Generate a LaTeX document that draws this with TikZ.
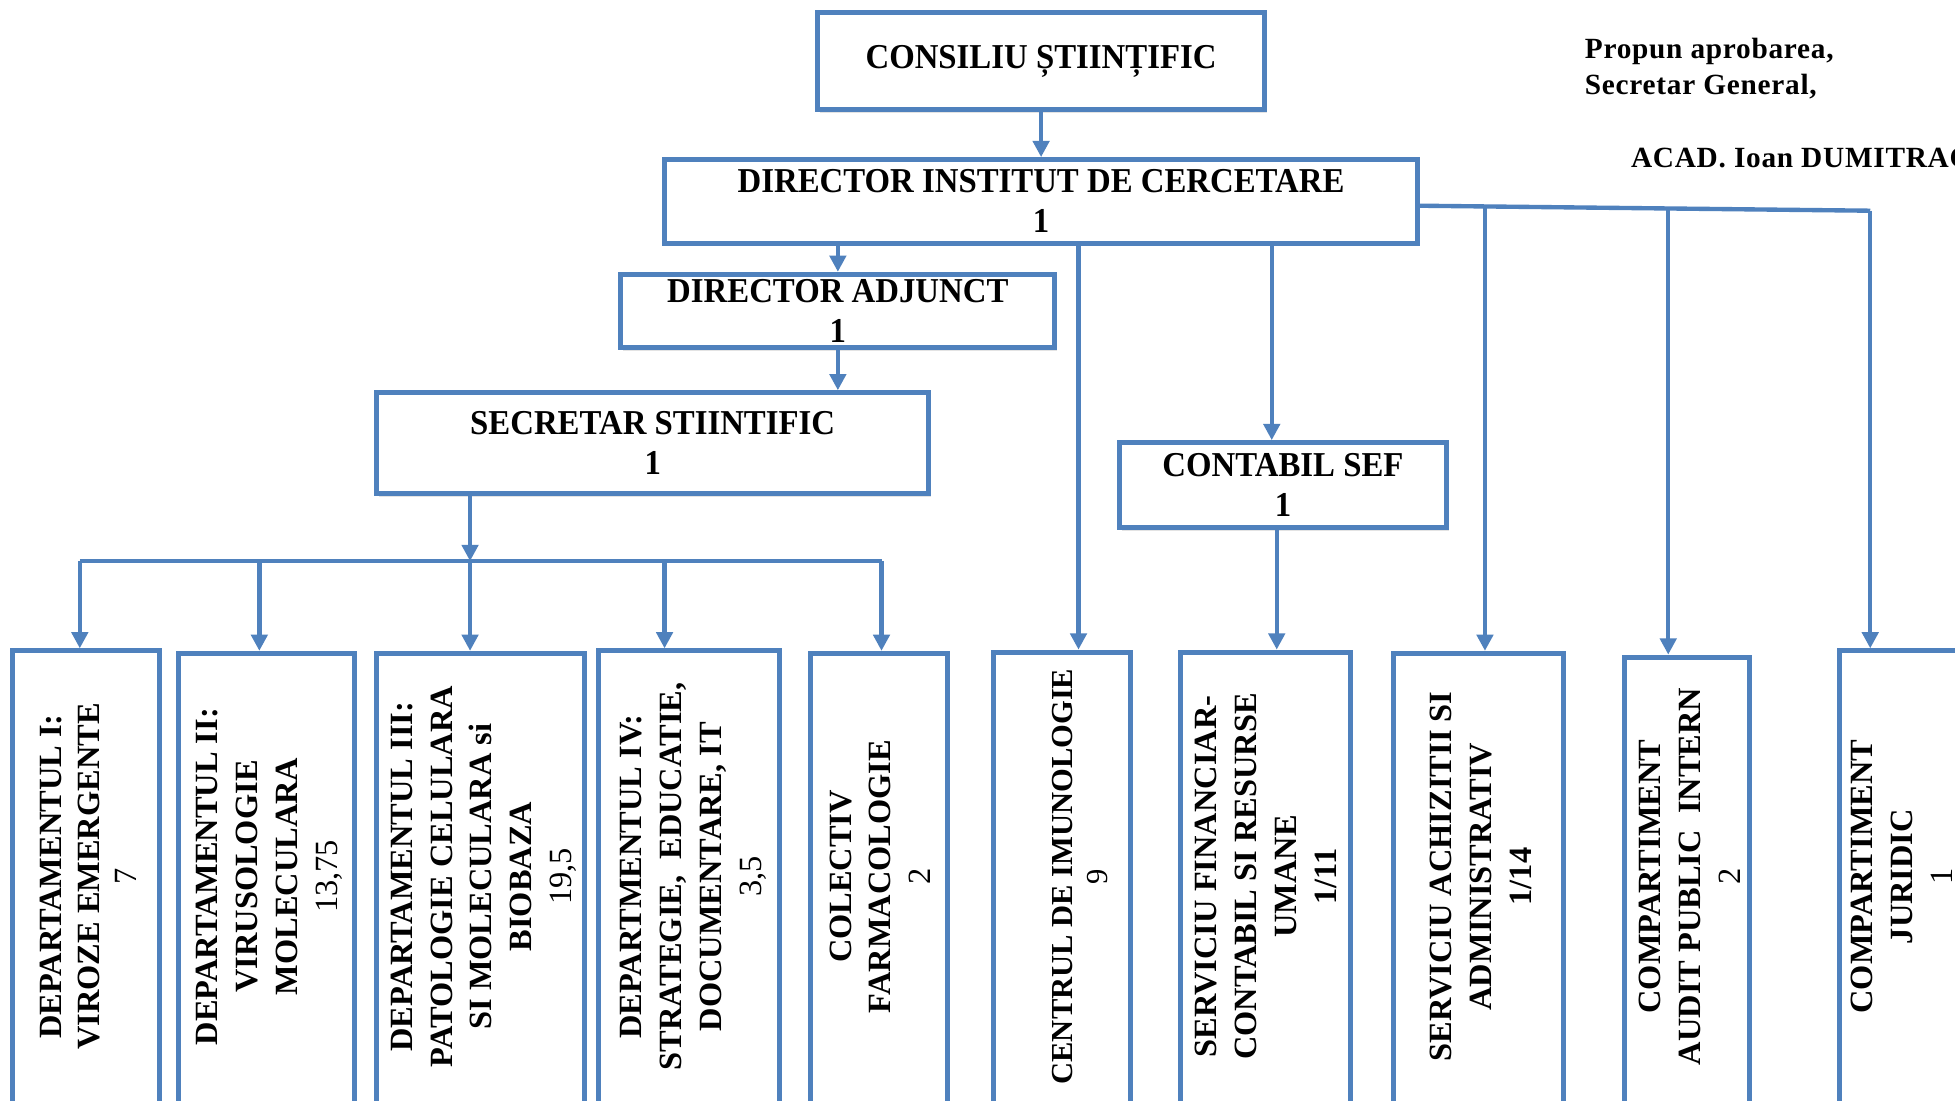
\documentclass[tikz,border=0pt]{standalone}
\usepackage{fontspec}
\setmainfont{Liberation Serif}
\newfontfamily\headfont{Liberation Serif}[FakeStretch=0.94]
\newfontfamily\notefont{Liberation Serif}[LetterSpace=2.5]
\usetikzlibrary{arrows.meta,shadows}
\definecolor{obl}{HTML}{4F81BD}
\tikzset{
  box/.style={draw=obl, line width=4pt, fill=white, inner sep=0pt,
    drop shadow={opacity=0.22, shadow xshift=2pt, shadow yshift=-2.5pt}},
  headbox/.style={box, align=center, font=\headfont\bfseries\fontsize{28}{32}\selectfont},
  vlabel/.style={rotate=90, align=center, inner sep=0pt, font=\bfseries\fontsize{26}{32}\selectfont},
  link/.style={draw=obl, line width=3.5pt},
  arr/.style={link, -{Triangle[length=13pt,width=13pt]}},
  note/.style={anchor=base west, inner sep=0pt, font=\notefont\bfseries\fontsize{23.5}{28}\selectfont},
}
\begin{document}
\begin{tikzpicture}[x=1pt,y=-1pt]
\path[use as bounding box] (0,0) rectangle (1568,883);
\clip (0,0) rectangle (1568,883);
\fill[white] (0,0) rectangle (1568,883);

% top boxes
\node[headbox, minimum width=358pt, minimum height=78pt] (cons) at (835,49) {CONSILIU ȘTIINȚIFIC};
\node[headbox, minimum width=604pt, minimum height=67pt] (dir) at (835,161.5) {DIRECTOR INSTITUT DE CERCETARE\\1};
\node[headbox, minimum width=348pt, minimum height=59pt] (adj) at (672,249.5) {DIRECTOR ADJUNCT\\1};
\node[headbox, minimum width=443pt, minimum height=81pt] (sec) at (523.5,355.5) {SECRETAR STIINTIFIC\\1};
\node[headbox, minimum width=262pt, minimum height=68pt] (cont) at (1029,389) {CONTABIL SEF\\1};

% bottom boxes
\node[box, minimum width=118pt, minimum height=372pt] (b1) at (69,708) {};
\node[box, minimum width=141pt, minimum height=372pt] (b2) at (213.5,710) {};
\node[box, minimum width=167pt, minimum height=372pt] (b3) at (385.5,710) {};
\node[box, minimum width=145pt, minimum height=372pt] (b4) at (552.5,708) {};
\node[box, minimum width=110pt, minimum height=372pt] (b5) at (705,710) {};
\node[box, minimum width=110pt, minimum height=372pt] (b6) at (852,709) {};
\node[box, minimum width=136pt, minimum height=372pt] (b7) at (1015,709) {};
\node[box, minimum width=136pt, minimum height=372pt] (b8) at (1186,710) {};
\node[box, minimum width=100pt, minimum height=372pt] (b9) at (1353,713) {};
\node[box, minimum width=112pt, minimum height=372pt] (b10) at (1531,708) {};

% vertical labels
\node[vlabel, font=\bfseries\fontsize{26}{30}\selectfont] (l1) at (71,703) {DEPARTAMENTUL I:\\VIROZE EMERGENTE\\{\mdseries 7}};
\node[vlabel] (l2) at (216,703) {DEPARTAMENTUL II:\\VIRUSOLOGIE\\MOLECULARA\\{\mdseries 13,75}};
\node[vlabel] (l3) at (388,703) {DEPARTAMENTUL III:\\PATOLOGIE CELULARA\\SI MOLECULARA si\\BIOBAZA\\{\mdseries 19,5}};
\node[vlabel] (l4) at (556,703) {DEPARTMENTUL IV:\\STRATEGIE,\ \ EDUCATIE,\\DOCUMENTARE, IT\\{\mdseries 3,5}};
\node[vlabel] (l5) at (706,703) {COLECTIV\\FARMACOLOGIE\\{\mdseries 2}};
\node[vlabel, font=\bfseries\fontsize{24.5}{28}\selectfont] (l6) at (866,703) {CENTRUL DE IMUNOLOGIE\\{\mdseries 9}};
\node[vlabel] (l7) at (1015.5,703) {SERVICIU FINANCIAR-\\CONTABIL SI RESURSE\\UMANE\\1/11};
\node[vlabel] (l8) at (1188,703) {SERVICIU ACHIZITII SI\\ADMINISTRATIV\\1/14};
\node[vlabel] (l9) at (1355.5,703) {COMPARTIMENT\\AUDIT PUBLIC\ \ INTERN\\{\mdseries 2}};
\node[vlabel] (l10) at (1525,703) {COMPARTIMENT\\JURIDIC\\{\mdseries 1}};

% notes
\node[note] (n1) at (1271,47) {Propun aprobarea,};
\node[note] (n2) at (1271,76) {Secretar General,};
\node[note] (n3) at (1308,134) {ACAD. Ioan DUMITRACHE};

% helper coordinates
\coordinate (hub) at (377,450);
\coordinate (hl) at (64,450);
\coordinate (h2) at (208,450);
\coordinate (h4) at (533,450);
\coordinate (hr) at (707,450);
\coordinate (ry) at (0,165);
\coordinate (r8) at (1191,167);
\coordinate (r9) at (1338,168);
\coordinate (rj) at (1500,169);
\coordinate (d6) at (865,0);
\coordinate (dc) at (1020,0);
\coordinate (d7) at (1024,0);

% connectors
\draw[arr] (cons.south) -- (dir.north);
\draw[arr] (dir.south -| adj.north) -- (adj.north);
\draw[arr] (adj.south) -- (adj.south |- sec.north);
\draw[arr] (sec.south -| hub) -- (hub);
\draw[link] (hl) -- (hr);
\draw[arr] (hl) -- (hl |- b1.north);
\draw[arr] (h2) -- (h2 |- b2.north);
\draw[arr] (hub) -- (hub |- b3.north);
\draw[arr] (h4) -- (h4 |- b4.north);
\draw[arr] (hr) -- (hr |- b5.north);
\draw[arr] (dir.south -| d6) -- (d6 |- b6.north);
\draw[arr] (dir.south -| dc) -- (dc |- cont.north);
\draw[arr] (cont.south -| d7) -- (d7 |- b7.north);
\draw[link] (dir.east |- ry) -- (rj);
\draw[arr] (r8) -- (r8 |- b8.north);
\draw[arr] (r9) -- (r9 |- b9.north);
\draw[arr] (rj) -- (rj |- b10.north);
\end{tikzpicture}
\end{document}
